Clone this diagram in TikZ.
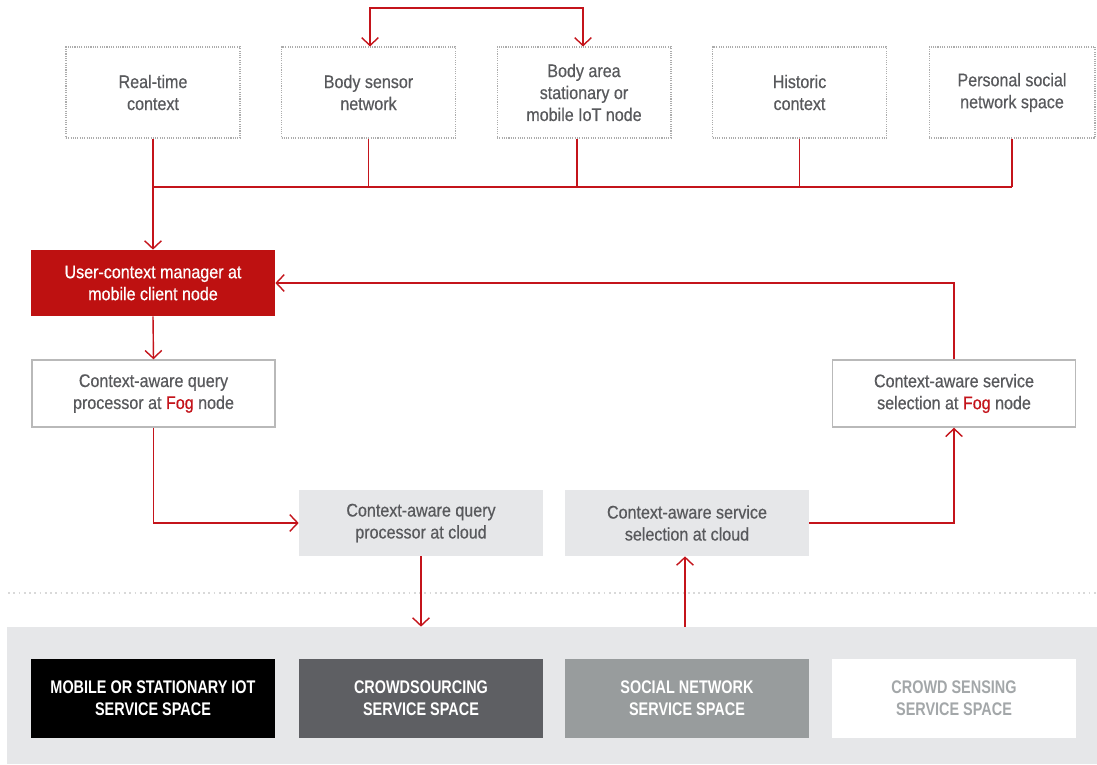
\documentclass[tikz,border=0pt]{standalone}
\usepackage{fontspec}
\setmainfont{Liberation Sans}[FakeStretch=0.88, FakeBold=0.5]
\newfontfamily\capsfont{Liberation Sans}[FakeStretch=0.79]
\usetikzlibrary{arrows.meta}
\definecolor{cred}{HTML}{C4141B}
\definecolor{boxred}{HTML}{BE1111}
\definecolor{txtgray}{HTML}{58595C}
\definecolor{lightfill}{HTML}{E6E7E9}
\definecolor{darkfill}{HTML}{5E5F63}
\definecolor{midfill}{HTML}{989C9D}
\definecolor{palegray}{HTML}{A3A7A9}
\tikzset{
  every node/.style={font=\fontsize{10.4}{12.5}\selectfont, align=center, inner sep=0pt},
  ctx/.style={draw=gray!65, dash pattern=on 0.6pt off 0.7pt, line width=0.6pt,
    minimum width=3.48cm, minimum height=1.82cm, text=txtgray},
  redbox/.style={fill=boxred, text=white, minimum width=4.88cm, minimum height=1.32cm},
  fogbox/.style={draw=gray!55, line width=0.8pt, fill=white, text=txtgray,
    minimum width=4.86cm, minimum height=1.34cm},
  cloudbox/.style={fill=lightfill, text=txtgray, minimum width=4.88cm, minimum height=1.32cm},
  spacebox/.style={minimum width=4.88cm, minimum height=1.58cm,
    font=\capsfont\bfseries\fontsize{10.4}{12.5}\selectfont},
  link/.style={draw=cred, line width=0.8pt},
  arr/.style={link, -{Straight Barb[length=4.5pt,width=9.5pt,line width=0.8pt]}},
  arrboth/.style={link, {Straight Barb[length=4.5pt,width=9.5pt,line width=0.8pt]}-{Straight Barb[length=4.5pt,width=9.5pt,line width=0.8pt]}},
  sep/.style={draw=gray!30, line width=0.9pt, dash pattern=on 1pt off 2pt},
}
\begin{document}
\begin{tikzpicture}[x=0.02cm, y=-0.02cm]
\useasboundingbox (0,0) rectangle (1097,764);

% top context boxes
\node[ctx] (t1) at (153,92.5) {Real-time\\context};
\node[ctx] (t2) at (368.5,92.5) {Body sensor\\network};
\node[ctx] (t3) at (584,92.5) {Body area\\stationary or\\mobile IoT node};
\node[ctx] (t4) at (799.5,92.5) {Historic\\context};
\node[ctx, minimum width=3.32cm] (t5) at (1012,92.5) {Personal social\\network space};

% middle boxes
\node[redbox] (red) at (153,283) {User-context manager at\\mobile client node};
\node[fogbox] (q) at (153.5,393.5) {Context-aware query\\processor at \textcolor{cred}{Fog} node};
\node[fogbox] (s) at (954,393.5) {Context-aware service\\selection at \textcolor{cred}{Fog} node};
\node[cloudbox] (qc) at (421,523) {Context-aware query\\processor at cloud};
\node[cloudbox] (sc) at (687,523) {Context-aware service\\selection at cloud};

% separator
\draw[sep] (8,593) -- (1097,593);

% bottom panel
\node[fill=lightfill, minimum width=21.8cm, minimum height=2.74cm] (panel) at (552,695.5) {};
\node[spacebox, fill=black, text=white] (b1) at (153,698.5) {MOBILE OR STATIONARY IOT\\SERVICE SPACE};
\node[spacebox, fill=darkfill, text=white] (b2) at (421,698.5) {CROWDSOURCING\\SERVICE SPACE};
\node[spacebox, fill=midfill, text=white] (b3) at (687,698.5) {SOCIAL NETWORK\\SERVICE SPACE};
\node[spacebox, fill=white, text=palegray] (b4) at (954,698.5) {CROWD SENSING\\SERVICE SPACE};

% connectors
\coordinate (topc) at (476,8);
\draw[arrboth] ([xshift=0.03cm]t2.north) |- (topc) -| ([xshift=-0.02cm]t3.north);

\coordinate (busL) at (153,187);
\coordinate (busR) at (1012,187);
\draw[link] (busL) -- (busR);
\draw[link] (t1.south) -- (busL);
\draw[link] (t2.south) -- (t2.south |- busL);
\draw[link] ([xshift=-0.14cm]t3.south) -- ([xshift=-0.14cm]t3.south |- busL);
\draw[link] (t4.south) -- (t4.south |- busL);
\draw[link] (t5.south) -- (busR);
\draw[arr] (busL) -- (red.north);

\draw[arr] (red.south) -- (q.north);
\draw[arr] (s.north) |- (red.east);
\draw[arr] (q.south) |- (qc.west);
\draw[arr] (sc.east) -| (s.south);
\draw[arr] (qc.south) -- (qc.south |- panel.north);
\draw[arr] ([xshift=-0.04cm]sc.south |- panel.north) -- ([xshift=-0.04cm]sc.south);
\end{tikzpicture}
\end{document}
